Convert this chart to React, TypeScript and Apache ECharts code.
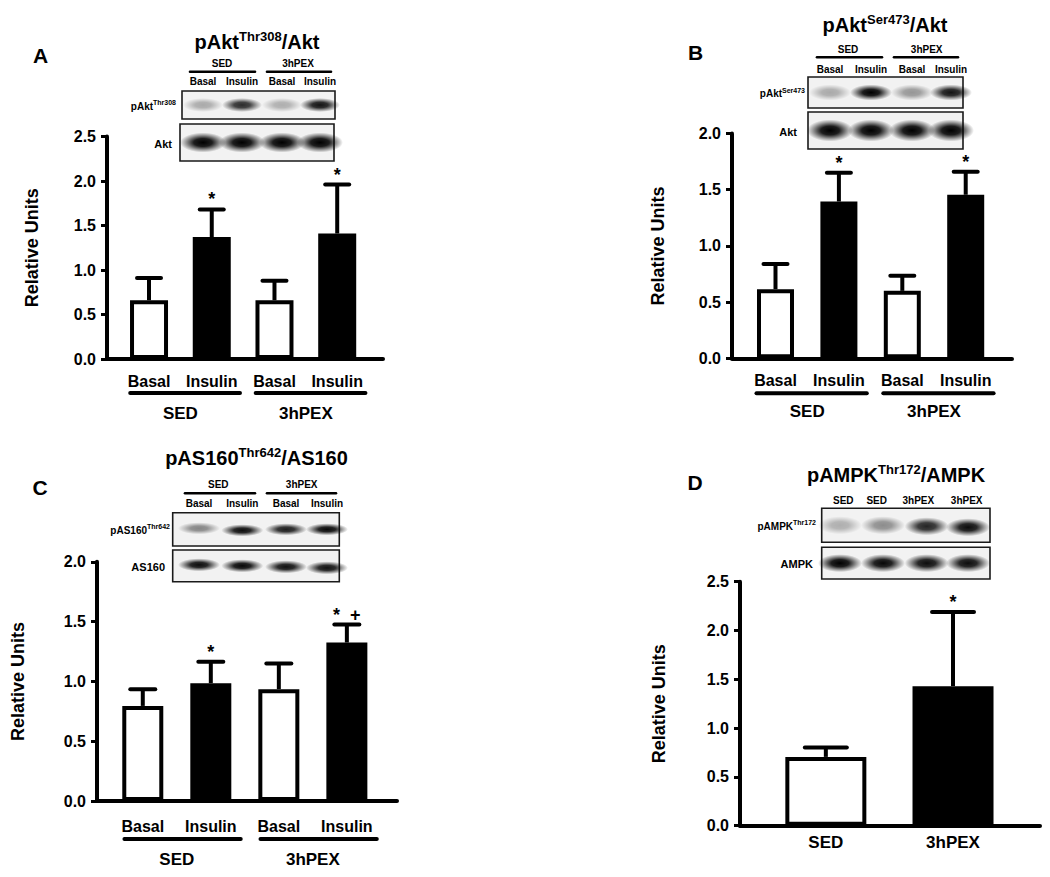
import React, { useEffect, useRef } from "react";
import * as echarts from "echarts";

const FONT = '"Liberation Sans", Arial, Helvetica, sans-serif';

// ---------- data ----------
const treatmentLabels = ["Basal", "Insulin", "Basal", "Insulin"];
const groupLabels = ["SED", "3hPEX"];
const groupCenters = [0.5, 2.5];

const aThr308Mean = [0.66, 1.37, 0.66, 1.41];
const aThr308Sem = [0.25, 0.31, 0.22, 0.55];
const aThr308Sig = ["", "*", "", "*"];

const bSer473Mean = [0.615, 1.395, 0.6, 1.455];
const bSer473Sem = [0.225, 0.255, 0.135, 0.205];
const bSer473Sig = ["", "*", "", "*"];

const cAS160Mean = [0.795, 0.985, 0.935, 1.325];
const cAS160Sem = [0.14, 0.18, 0.215, 0.15];
const cAS160Sig = ["", "*", "", "*  +"];

const dCategories = ["SED", "3hPEX"];
const dAMPKMean = [0.705, 1.43];
const dAMPKSem = [0.095, 0.76];
const dAMPKSig = ["", "*"];

const fourColors = ["#ffffff", "#000000", "#ffffff", "#000000"];
const twoColors = ["#ffffff", "#000000"];

// blot band intensities (0..1)
const blotAPhospho = [0.3, 0.82, 0.28, 0.92];
const blotATotal = [1, 1, 1, 1];
const blotBPhospho = [0.3, 1, 0.38, 0.92];
const blotBTotal = [1, 1, 1, 1];
const blotCPhospho = [0.45, 0.95, 0.88, 0.97];
const blotCTotal = [0.95, 0.97, 0.93, 0.93];
const blotDPhospho = [0.28, 0.42, 0.85, 0.95];
const blotDTotal = [1, 0.97, 0.95, 0.95];

// ---------- helpers ----------
type PanelCfg = {
  grid: { left: number; top: number; width: number; height: number };
  yMax: number;
  xMin: number;
  xMax: number;
  barWidth: number;
  cap: number;
  labelOff: number;
  labelSize: number;
  lineOff: number;
  groupOff: number;
  nameGap: number;
  lineFrom: number;
  lineTo: number;
};

function buildPanel(
  idx: number,
  cfg: PanelCfg,
  means: number[],
  sems: number[],
  sigs: string[],
  labels: string[],
  colors: string[],
  groups: string[] | null
) {
  const grid = { ...cfg.grid, containLabel: false };
  const xAxis = {
    gridIndex: idx,
    type: "value",
    min: cfg.xMin,
    max: cfg.xMax,
    axisLine: { show: true, onZero: false, lineStyle: { color: "#000", width: 4 } },
    axisTick: { show: false },
    axisLabel: { show: false },
    splitLine: { show: false },
  };
  const yAxis = {
    gridIndex: idx,
    type: "value",
    min: 0,
    max: cfg.yMax,
    interval: 0.5,
    name: "Relative Units",
    nameLocation: "middle",
    nameRotate: 90,
    nameGap: cfg.nameGap,
    nameTextStyle: { fontFamily: FONT, fontSize: 18, fontWeight: "bold", color: "#000" },
    axisLine: { show: true, onZero: false, lineStyle: { color: "#000", width: 4 } },
    axisTick: { show: true, length: 6, lineStyle: { color: "#000", width: 3 } },
    axisLabel: {
      margin: 11,
      fontFamily: FONT,
      fontSize: 16,
      fontWeight: "bold",
      color: "#000",
      formatter: (v: number) => v.toFixed(1),
    },
    splitLine: { show: false },
  };
  const series: any[] = [];
  series.push({
    type: "bar",
    xAxisIndex: idx,
    yAxisIndex: idx,
    barWidth: cfg.barWidth,
    silent: true,
    z: 3,
    itemStyle: { borderColor: "#000", borderWidth: 4 },
    data: means.map((m, i) => ({ value: [i, m], itemStyle: { color: colors[i] } })),
  });
  series.push({
    type: "custom",
    xAxisIndex: idx,
    yAxisIndex: idx,
    silent: true,
    z: 2,
    data: means.map((m, i) => [i, m, sems[i]]),
    renderItem: (params: any, api: any) => {
      const x = api.value(0);
      const m = api.value(1);
      const s = api.value(2);
      const p0 = api.coord([x, m]);
      const p1 = api.coord([x, m + s]);
      const sig = sigs[params.dataIndex];
      const children: any[] = [
        { type: "line", shape: { x1: p0[0], y1: p0[1], x2: p1[0], y2: p1[1] }, style: { stroke: "#000", lineWidth: 4 } },
        {
          type: "line",
          shape: { x1: p1[0] - cfg.cap / 2, y1: p1[1], x2: p1[0] + cfg.cap / 2, y2: p1[1] },
          style: { stroke: "#000", lineWidth: 4, lineCap: "round" },
        },
      ];
      if (sig) {
        children.push({
          type: "text",
          x: p1[0],
          y: p1[1] - 1,
          style: {
            text: sig,
            fill: "#000",
            font: `bold 18px ${FONT}`,
            align: "center",
            verticalAlign: "bottom",
          },
        });
      }
      return { type: "group", children };
    },
  });
  series.push({
    type: "custom",
    xAxisIndex: idx,
    yAxisIndex: idx,
    silent: true,
    data: labels.map((_, i) => [i, 0]),
    renderItem: (params: any, api: any) => {
      const p = api.coord([api.value(0), 0]);
      return {
        type: "text",
        x: p[0],
        y: p[1] + cfg.labelOff,
        style: {
          text: labels[params.dataIndex],
          fill: "#000",
          font: `bold ${cfg.labelSize}px ${FONT}`,
          align: "center",
          verticalAlign: "middle",
        },
      };
    },
  });
  if (groups) {
    series.push({
      type: "custom",
      xAxisIndex: idx,
      yAxisIndex: idx,
      silent: true,
      data: groupCenters.map((g) => [g, 0]),
      renderItem: (params: any, api: any) => {
        const g = api.value(0);
        const a = api.coord([g + cfg.lineFrom, 0]);
        const b = api.coord([g + cfg.lineTo, 0]);
        const c = api.coord([g, 0]);
        return {
          type: "group",
          children: [
            {
              type: "line",
              shape: { x1: a[0], y1: a[1] + cfg.lineOff, x2: b[0], y2: b[1] + cfg.lineOff },
              style: { stroke: "#000", lineWidth: 4, lineCap: "round" },
            },
            {
              type: "text",
              x: c[0],
              y: c[1] + cfg.groupOff,
              style: {
                text: groups[params.dataIndex],
                fill: "#000",
                font: `bold 17px ${FONT}`,
                align: "center",
                verticalAlign: "middle",
              },
            },
          ],
        };
      },
    });
  }
  return { grid, xAxis, yAxis, series };
}

type BlotRow = {
  box: [number, number, number, number];
  label: string;
  sup?: string;
  labelRight: number;
  labelSize: number;
  lanes: number[];
  intens: number[];
  rx: number;
  ry: number;
  dy?: number[];
};

function bandFill(a: number) {
  return new echarts.graphic.RadialGradient(0.5, 0.5, 0.5, [
    { offset: 0, color: `rgba(0,0,0,${a})` },
    { offset: 0.4, color: `rgba(0,0,0,${a * 0.88})` },
    { offset: 0.75, color: `rgba(0,0,0,${a * 0.35})` },
    { offset: 1, color: "rgba(0,0,0,0)" },
  ]);
}

function blotRow(r: BlotRow) {
  const [x, y, w, h] = r.box;
  const els: any[] = [
    { type: "rect", z: 10, shape: { x, y, width: w, height: h }, style: { fill: "#f2f2f2", stroke: "#1a1a1a", lineWidth: 1.6 } },
  ];
  r.lanes.forEach((lx, i) => {
    els.push({
      type: "ellipse",
      z: 11,
      shape: { cx: lx, cy: y + h / 2 + (r.dy ? r.dy[i] : 0), rx: r.rx, ry: r.ry },
      style: { fill: bandFill(r.intens[i]) },
    });
  });
  const rich: any = {
    m: { fontFamily: FONT, fontWeight: "bold", fontSize: r.labelSize, fill: "#000", verticalAlign: "bottom", lineHeight: r.labelSize + 2 },
    s: { fontFamily: FONT, fontWeight: "bold", fontSize: Math.round(r.labelSize * 0.72), fill: "#000", verticalAlign: "top", lineHeight: Math.round(r.labelSize * 0.8) },
  };
  els.push({
    type: "text",
    z: 12,
    x: r.labelRight,
    y: y + h / 2,
    style: {
      text: r.sup ? `{m|${r.label}}{s|${r.sup}}` : `{m|${r.label}}`,
      rich,
      align: "right",
      verticalAlign: "middle",
    },
  });
  return els;
}

function headerText(x: number, y: number, text: string, size: number) {
  return {
    type: "text",
    z: 12,
    x,
    y,
    style: { text, fill: "#000", font: `bold ${size}px ${FONT}`, align: "center", verticalAlign: "middle" },
  };
}

function headerLine(x1: number, x2: number, y: number) {
  return {
    type: "line",
    z: 12,
    shape: { x1, y1: y, x2, y2: y },
    style: { stroke: "#000", lineWidth: 2.6, lineCap: "round" },
  };
}

function title(x: number, y: number, base: string, sup: string, tail: string) {
  return {
    type: "text",
    z: 12,
    x,
    y,
    style: {
      text: `{b|${base}}{s|${sup}}{b|${tail}}`,
      align: "center",
      verticalAlign: "middle",
      rich: {
        b: { fontFamily: FONT, fontWeight: "bold", fontSize: 20, fill: "#000", verticalAlign: "bottom", lineHeight: 22 },
        s: { fontFamily: FONT, fontWeight: "bold", fontSize: 13, fill: "#000", verticalAlign: "top", lineHeight: 14 },
      },
    },
  };
}

function letter(x: number, y: number, t: string) {
  return {
    type: "text",
    z: 12,
    x,
    y,
    style: { text: t, fill: "#000", font: `bold 21px ${FONT}`, align: "center", verticalAlign: "middle" },
  };
}

function buildGraphic() {
  const g: any[] = [];
  g.push(letter(40.5, 55, "A"), letter(695.5, 52, "B"), letter(40, 487, "C"), letter(695, 482, "D"));
  g.push(title(257, 41, "pAkt", "Thr308", "/Akt"));
  g.push(title(885, 24, "pAkt", "Ser473", "/Akt"));
  g.push(title(256.5, 457, "pAS160", "Thr642", "/AS160"));
  g.push(title(896, 474, "pAMPK", "Thr172", "/AMPK"));

  // Blot A
  const lanesA = [203, 242, 282, 320];
  g.push(headerText(222, 63, "SED", 10), headerText(298, 63, "3hPEX", 10));
  g.push(headerLine(190, 255, 71.7), headerLine(267, 331, 71.7));
  treatmentLabels.forEach((t, i) => g.push(headerText(lanesA[i], 81.7, t, 10)));
  g.push(...blotRow({ box: [182, 91, 153, 28], label: "pAkt", sup: "Thr308", labelRight: 176, labelSize: 10, lanes: lanesA, intens: blotAPhospho, rx: 20, ry: 7 }));
  g.push(...blotRow({ box: [180, 124, 154, 37], label: "Akt", labelRight: 172, labelSize: 11, lanes: lanesA, intens: blotATotal, rx: 23, ry: 10 }));

  // Blot B
  const lanesB = [830, 871, 912, 951];
  g.push(headerText(848, 49, "SED", 10), headerText(926.7, 49, "3hPEX", 10));
  g.push(headerLine(817, 882, 57.3), headerLine(894, 958, 57.3));
  treatmentLabels.forEach((t, i) => g.push(headerText(lanesB[i], 69.3, t, 10)));
  g.push(...blotRow({ box: [808, 77, 155, 31], label: "pAkt", sup: "Ser473", labelRight: 805, labelSize: 10, lanes: lanesB, intens: blotBPhospho, rx: 21, ry: 8 }));
  g.push(...blotRow({ box: [808, 112, 155, 37], label: "Akt", labelRight: 797, labelSize: 11, lanes: lanesB, intens: blotBTotal, rx: 23, ry: 11 }));

  // Blot C
  const lanesC = [199, 242.3, 286, 327];
  g.push(headerText(218.3, 484.3, "SED", 10), headerText(301.7, 484.3, "3hPEX", 10));
  g.push(headerLine(185, 255, 493.3), headerLine(267, 336, 493.3));
  treatmentLabels.forEach((t, i) => g.push(headerText(lanesC[i], 503.3, t, 10)));
  g.push(...blotRow({ box: [172.7, 512.7, 166.6, 33.3], label: "pAS160", sup: "Thr642", labelRight: 170, labelSize: 10, lanes: lanesC, intens: blotCPhospho, rx: 21, ry: 6, dy: [-1, 1, 0, 0] }));
  g.push(...blotRow({ box: [172.7, 550, 166.6, 31.7], label: "AS160", labelRight: 165, labelSize: 11, lanes: lanesC, intens: blotCTotal, rx: 21, ry: 6.5, dy: [-1, 0, 1, 2] }));

  // Blot D
  const lanesD = [840, 883, 926.7, 968];
  const headD = ["SED", "SED", "3hPEX", "3hPEX"];
  const headDx = [843.3, 876.7, 918.3, 966.7];
  headD.forEach((t, i) => g.push(headerText(headDx[i], 500, t, 10)));
  g.push(...blotRow({ box: [821.7, 508.3, 168.3, 34], label: "pAMPK", sup: "Thr172", labelRight: 816, labelSize: 10, lanes: lanesD, intens: blotDPhospho, rx: 22, ry: 9, dy: [0, 0, 1, 2] }));
  g.push(...blotRow({ box: [821.7, 547.3, 168.3, 31.7], label: "AMPK", labelRight: 813, labelSize: 11, lanes: lanesD, intens: blotDTotal, rx: 22, ry: 9 }));
  return g;
}

function buildOption() {
  const panels = [
    buildPanel(
      0,
      { grid: { left: 107, top: 136.5, width: 276, height: 222.5 }, yMax: 2.5, xMin: -0.67, xMax: 3.73, barWidth: 38, cap: 24, labelOff: 22, labelSize: 16, lineOff: 34, groupOff: 54, nameGap: 66, lineFrom: -0.8, lineTo: 0.95 },
      aThr308Mean, aThr308Sem, aThr308Sig, treatmentLabels, fourColors, groupLabels
    ),
    buildPanel(
      1,
      { grid: { left: 732, top: 133.5, width: 280, height: 224.8 }, yMax: 2.0, xMin: -0.686, xMax: 3.73, barWidth: 37, cap: 24, labelOff: 22, labelSize: 16, lineOff: 35, groupOff: 53, nameGap: 65, lineFrom: -0.8, lineTo: 0.94 },
      bSer473Mean, bSer473Sem, bSer473Sig, treatmentLabels, fourColors, groupLabels
    ),
    buildPanel(
      2,
      { grid: { left: 97, top: 561.8, width: 300, height: 239.2 }, yMax: 2.0, xMin: -0.673, xMax: 3.737, barWidth: 41, cap: 25, labelOff: 25, labelSize: 16, lineOff: 38, groupOff: 58, nameGap: 70, lineFrom: -0.77, lineTo: 0.94 },
      cAS160Mean, cAS160Sem, cAS160Sig, treatmentLabels, fourColors, groupLabels
    ),
    buildPanel(
      3,
      { grid: { left: 740, top: 581.7, width: 300, height: 244 }, yMax: 2.5, xMin: -0.675, xMax: 1.684, barWidth: 81, cap: 42, labelOff: 17, labelSize: 17, lineOff: 0, groupOff: 0, nameGap: 72, lineFrom: 0, lineTo: 0 },
      dAMPKMean, dAMPKSem, dAMPKSig, dCategories, twoColors, null
    ),
  ];
  return {
    animation: false,
    backgroundColor: "#ffffff",
    grid: panels.map((p) => p.grid),
    xAxis: panels.map((p) => p.xAxis),
    yAxis: panels.map((p) => p.yAxis),
    series: panels.flatMap((p) => p.series),
    graphic: buildGraphic(),
  };
}

export default function App() {
  const ref = useRef<HTMLDivElement>(null);
  useEffect(() => {
    if (!ref.current) return;
    const chart = echarts.init(ref.current, undefined, { renderer: "svg" });
    chart.setOption(buildOption() as any);
    return () => chart.dispose();
  }, []);
  return (
    <div
      ref={ref}
      style={{ position: "absolute", left: 0, top: 0, width: 1050, height: 877, background: "#fff" }}
    />
  );
}
